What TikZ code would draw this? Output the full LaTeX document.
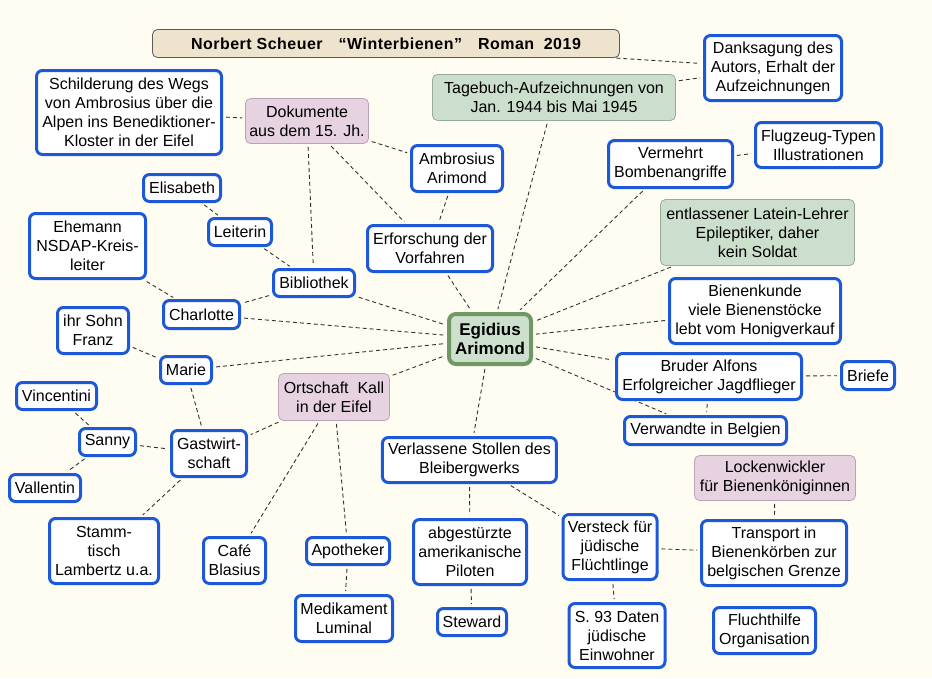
\documentclass[tikz,border=0pt]{standalone}
\usepackage{fontspec}
\setmainfont{Liberation Sans}
\newfontfamily\titlefont[LetterSpace=3]{Liberation Sans}

\definecolor{bgcream}{RGB}{255,253,242}
\definecolor{boxblue}{RGB}{28,88,216}
\definecolor{pinkfill}{RGB}{230,210,224}
\definecolor{pinkline}{RGB}{190,160,180}
\definecolor{greenfill}{RGB}{204,222,204}
\definecolor{greenline}{RGB}{150,172,150}
\definecolor{egidfill}{RGB}{205,224,205}
\definecolor{egidline}{RGB}{112,152,100}
\definecolor{titlefill}{RGB}{238,228,206}
\definecolor{titleline}{RGB}{90,90,90}
\definecolor{linkgray}{RGB}{50,50,50}

\pgfdeclarelayer{bg}
\pgfdeclarelayer{edges}
\pgfsetlayers{bg,edges,main}

\tikzset{
  sz/.style 2 args={minimum width=#1pt,minimum height=#2pt},
  topic/.style={draw=boxblue,line width=3pt,rounded corners=6pt,fill=white,align=center,inner sep=0pt},
  pinkbox/.style={draw=pinkline,line width=0.8pt,rounded corners=5pt,fill=pinkfill,align=center,inner sep=0pt},
  greenbox/.style={draw=greenline,line width=0.8pt,rounded corners=5pt,fill=greenfill,align=center,inner sep=0pt},
  link/.style={draw=linkgray,line width=0.9pt,dash pattern=on 4pt off 3pt,shorten <=3pt,shorten >=3pt}
}

\begin{document}
\begin{tikzpicture}[x=1pt,y=-1pt,every node/.style={font=\fontsize{16}{19}\selectfont}]
    \begin{pgfonlayer}{bg}
        \fill[bgcream] (0,0) rectangle (932,678);
    \end{pgfonlayer}

    % Titel und Mitte
    \node[draw=titleline,line width=0.8pt,rounded corners=5pt,fill=titlefill,inner sep=0pt,sz={467}{28},
          font=\titlefont\bfseries\fontsize{16}{19}\selectfont] (titel) at (386,43.5)
          {Norbert Scheuer\hspace{1em}“Winterbienen”\hspace{1em}Roman\hspace{0.6em}2019};
    \node[draw=egidline,line width=4pt,rounded corners=7pt,fill=egidfill,align=center,inner sep=0pt,sz={82}{50},
          font=\bfseries\fontsize{17}{19}\selectfont] (egid) at (490,339) {Egidius\\Arimond};

    % oben
    \node[topic,sz={185}{84}] (schild) at (129,112.5) {Schilderung des Wegs\\von Ambrosius über die\\Alpen ins Benediktioner-\\Kloster in der Eifel};
    \node[pinkbox,sz={123}{45}] (doku) at (307,121) {Dokumente\\aus dem 15. Jh.};
    \node[greenbox,sz={243}{46}] (tageb) at (554,97.5) {Tagebuch-Aufzeichnungen von\\Jan. 1944 bis Mai 1945};
    \node[topic,sz={137}{65}] (dank) at (773,68) {Danksagung des\\Autors, Erhalt der\\Aufzeichnungen};
    \node[topic,sz={91}{46}] (ambr) at (457,168.5) {Ambrosius\\Arimond};
    \node[topic,sz={125}{46}] (erf) at (430,248.5) {Erforschung der\\Vorfahren};
    \node[topic,sz={124}{47}] (verm) at (670.5,164) {Vermehrt\\Bombenangriffe};
    \node[topic,sz={126}{45}] (flug) at (818.5,145) {Flugzeug-Typen\\Illustrationen};
    \node[greenbox,sz={194}{66}] (entl) at (757.5,232.5) {entlassener Latein-Lehrer\\Epileptiker, daher\\kein Soldat};
    \node[topic,sz={171}{65}] (biene) at (755,311) {Bienenkunde\\viele Bienenstöcke\\lebt vom Honigverkauf};

    % links
    \node[topic,sz={77}{27}] (elis) at (182,188) {Elisabeth};
    \node[topic,sz={63}{27}] (leit) at (240,232) {Leiterin};
    \node[topic,sz={116}{65}] (ehem) at (87.5,246) {Ehemann\\NSDAP-Kreis-\\leiter};
    \node[topic,sz={81}{27}] (bibl) at (314,283) {Bibliothek};
    \node[topic,sz={76}{28}] (charl) at (201.5,314.5) {Charlotte};
    \node[topic,sz={71}{46}] (franz) at (93,330.5) {ihr Sohn\\Franz};
    \node[topic,sz={51}{27}] (marie) at (186,370) {Marie};
    \node[pinkbox,sz={111}{47}] (ort) at (334,397) {Ortschaft\ \ Kall\\in der Eifel};
    \node[topic,sz={80}{27}] (vinc) at (56.5,396) {Vincentini};
    \node[topic,sz={56}{27}] (sanny) at (107.5,442) {Sanny};
    \node[topic,sz={75}{46}] (gast) at (209,453.5) {Gastwirt-\\schaft};
    \node[topic,sz={71}{27}] (vall) at (45,488) {Vallentin};
    \node[topic,sz={109}{65}] (stamm) at (104,551) {Stamm-\\tisch\\Lambertz u.a.};
    \node[topic,sz={62}{46}] (cafe) at (234.5,560.5) {Café\\Blasius};
    \node[topic,sz={83}{27}] (apoth) at (348,551) {Apotheker};
    \node[topic,sz={97}{46}] (medi) at (344,618.5) {Medikament\\Luminal};

    % unten und rechts
    \node[topic,sz={174}{45}] (verl) at (469.4,460) {Verlassene Stollen des\\Bleibergwerks};
    \node[topic,sz={113}{65}] (abge) at (470,552) {abgestürzte\\amerikanische\\Piloten};
    \node[topic,sz={69}{27}] (stew) at (472,622) {Steward};
    \node[topic,sz={94}{65}] (verst) at (610,547) {Versteck für\\jüdische\\Flüchtlinge};
    \node[topic,sz={96}{64}] (s93) at (617,635.5) {S. 93 Daten\\jüdische\\Einwohner};
    \node[topic,sz={185}{46}] (brud) at (709,376.5) {Bruder Alfons\\Erfolgreicher Jagdflieger};
    \node[topic,sz={53}{28}] (brief) at (868,375.5) {Briefe};
    \node[topic,sz={162}{28}] (verw) at (705.5,430.5) {Verwandte in Belgien};
    \node[pinkbox,sz={161}{45}] (lock) at (775,478) {Lockenwickler\\für Bienenköniginnen};
    \node[topic,sz={145}{65}] (trans) at (774,553) {Transport in\\Bienenkörben zur\\belgischen Grenze};
    \node[topic,sz={102}{46}] (flucht) at (764.5,630.5) {Fluchthilfe\\Organisation};

    % Verbindungen
    \begin{pgfonlayer}{edges}
        \draw[link] (titel) -- (dank);
        \draw[link] (tageb) -- (dank);
        \draw[link] (tageb) -- (egid);
        \draw[link] (schild) -- (doku);
        \draw[link] (doku) -- (ambr);
        \draw[link] (doku) -- (bibl);
        \draw[link] (doku) -- (erf);
        \draw[link] (ambr) -- (erf);
        \draw[link] (erf) -- (egid);
        \draw[link] (verm) -- (egid);
        \draw[link] (verm) -- (flug);
        \draw[link] (entl) -- (egid);
        \draw[link] (biene) -- (egid);
        \draw[link] (elis) -- (leit);
        \draw[link] (leit) -- (bibl);
        \draw[link] (bibl) -- (charl);
        \draw[link] (bibl) -- (egid);
        \draw[link] (ehem) -- (charl);
        \draw[link] (charl) -- (egid);
        \draw[link] (franz) -- (marie);
        \draw[link] (marie) -- (egid);
        \draw[link] (ort) -- (egid);
        \draw[link] (marie) -- (gast);
        \draw[link] (ort) -- (gast);
        \draw[link] (vinc) -- (sanny);
        \draw[link] (sanny) -- (gast);
        \draw[link] (sanny) -- (vall);
        \draw[link] (gast) -- (stamm);
        \draw[link] (ort) -- (cafe);
        \draw[link] (ort) -- (apoth);
        \draw[link] (apoth) -- (medi);
        \draw[link] (egid) -- (verl);
        \draw[link] (egid) -- (brud);
        \draw[link] (egid) -- (verw);
        \draw[link] (brud) -- (verw);
        \draw[link] (brud) -- (brief);
        \draw[link] (verl) -- (abge);
        \draw[link] (verl) -- (verst);
        \draw[link] (abge) -- (stew);
        \draw[link] (verst) -- (s93);
        \draw[link] (verst) -- (trans);
        \draw[link] (lock) -- (trans);
    \end{pgfonlayer}
\end{tikzpicture}
\end{document}
